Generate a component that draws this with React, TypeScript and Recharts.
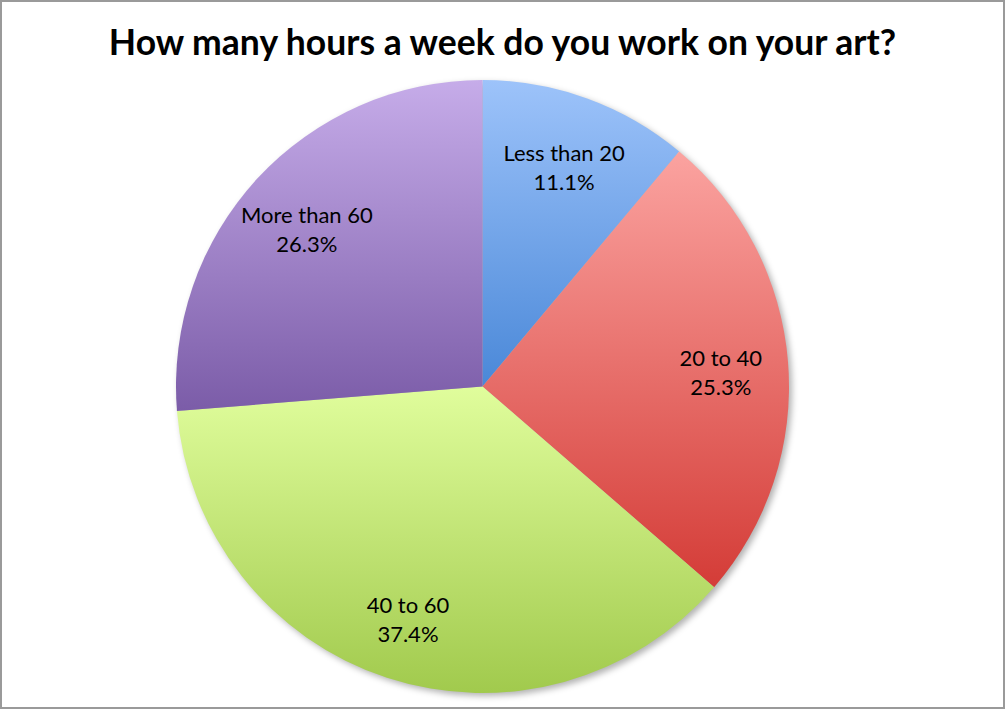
import { Cell, Pie, PieChart } from "recharts";

const categories = ["Less than 20", "20 to 40", "40 to 60", "More than 60"];
const shares = [11.1, 25.3, 37.4, 26.3];
const topColors = ["#9dc3fa", "#fba3a0", "#e0fd9c", "#c6ace9"];
const bottomColors = ["#4a88d8", "#d43c37", "#a1ca4d", "#7b5ca8"];

const data = categories.map((name, i) => ({ name, value: shares[i] }));

const RADIAN = Math.PI / 180;

const renderLabel = ({ cx, cy, midAngle, outerRadius, name, value }: any) => {
  const r = outerRadius * 0.78;
  const x = cx + r * Math.cos(-midAngle * RADIAN);
  const y = cy + r * Math.sin(-midAngle * RADIAN);
  return (
    <text
      x={x}
      y={y}
      textAnchor="middle"
      fill="#000"
      fontFamily="Lato, 'Open Sans', sans-serif"
      fontSize={22}
    >
      <tspan x={x} dy={-1}>
        {name}
      </tspan>
      <tspan x={x} dy={29}>
        {value.toFixed(1)}%
      </tspan>
    </text>
  );
};

export default function App() {
  return (
    <div style={{ position: "relative", width: 1005, height: 709, background: "#fff" }}>
      <style>{"body{margin:0}"}</style>
      <PieChart
        width={1005}
        height={709}
        margin={{ top: 0, right: 0, bottom: 0, left: 0 }}
      >
        <defs>
          {topColors.map((c, i) => (
            <linearGradient key={i} id={`grad${i}`} x1="0" y1="0" x2="0" y2="1">
              <stop offset="0%" stopColor={c} />
              <stop offset="100%" stopColor={bottomColors[i]} />
            </linearGradient>
          ))}
          <filter id="shadow" x="-10%" y="-10%" width="120%" height="120%">
            <feGaussianBlur stdDeviation="3" />
          </filter>
        </defs>
        <Pie
          data={[{ name: "shadow", value: 1 }]}
          dataKey="value"
          cx={485.5}
          cy={389.5}
          outerRadius={306.5}
          stroke="none"
          isAnimationActive={false}
        >
          <Cell fill="#000" fillOpacity={0.3} filter="url(#shadow)" />
        </Pie>
        <Pie
          data={data}
          dataKey="value"
          nameKey="name"
          cx={482.5}
          cy={386.5}
          outerRadius={306.5}
          startAngle={90}
          endAngle={-270}
          stroke="none"
          label={renderLabel}
          labelLine={false}
          isAnimationActive={false}
        >
          {data.map((d, i) => (
            <Cell key={d.name} fill={`url(#grad${i})`} />
          ))}
        </Pie>
      </PieChart>
      <div
        style={{
          position: "absolute",
          left: 0,
          right: 0,
          top: 20,
          textAlign: "center",
          fontFamily: "Lato, 'Open Sans', sans-serif",
          fontWeight: 700,
          fontSize: 35.5,
          color: "#000",
          pointerEvents: "none",
        }}
      >
        How many hours a week do you work on your art?
      </div>
      <div
        style={{
          position: "absolute",
          inset: 0,
          boxSizing: "border-box",
          border: "2px solid #9a9a9a",
          pointerEvents: "none",
        }}
      />
    </div>
  );
}
